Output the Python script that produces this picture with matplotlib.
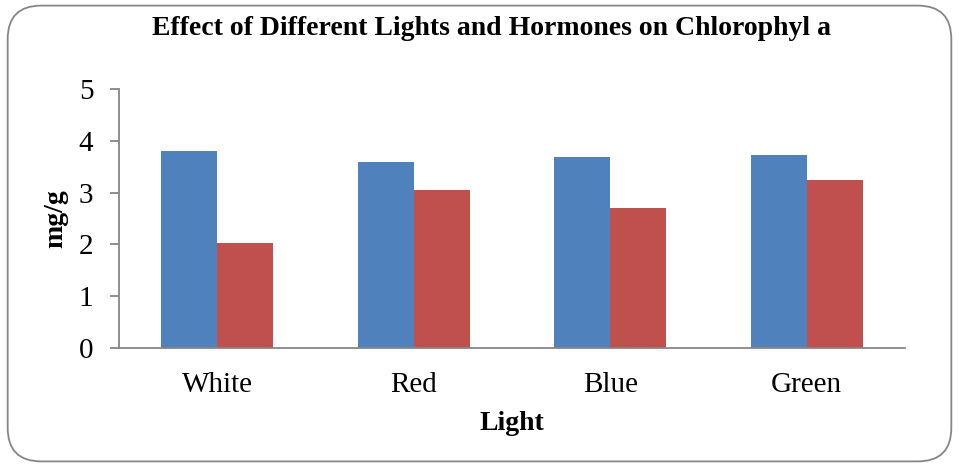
"""Bar chart — effect of different lights and hormones on chlorophyll a."""

import numpy as np
import matplotlib
matplotlib.use("Agg")
import matplotlib.pyplot as plt
from matplotlib.patches import FancyBboxPatch

lights = ["White", "Red", "Blue", "Green"]
series_a = [3.81, 3.59, 3.69, 3.73]
series_b = [2.03, 3.05, 2.70, 3.25]

y_ticks = [0, 1, 2, 3, 4, 5]


def plot_chlorophyll(save_path="out.png"):
    plt.rcParams["font.family"] = ["Liberation Serif", "DejaVu Serif"]
    fig = plt.figure(figsize=(9.59, 4.67), dpi=100)
    ax = fig.add_axes([0.1241, 0.2548, 0.8196, 0.5546])

    x = np.arange(len(lights))
    width = 0.285
    ax.bar(x - width / 2, series_a, width, color="#4F81BD", linewidth=0)
    ax.bar(x + width / 2, series_b, width, color="#C0504D", linewidth=0)

    axis_grey = "#868686"
    ax.set_xlim(-0.5, len(lights) - 0.5)
    ax.set_ylim(0, 5)
    ax.set_yticks(y_ticks)
    ax.set_xticks(x)
    ax.set_xticklabels(lights)
    for side in ["top", "right"]:
        ax.spines[side].set_visible(False)
    for side in ["left", "bottom"]:
        ax.spines[side].set_color(axis_grey)
        ax.spines[side].set_linewidth(1.3)
    ax.tick_params(axis="y", direction="out", length=6.5, width=1.3,
                   color=axis_grey, labelsize=21, pad=12)
    ax.tick_params(axis="x", length=0, labelsize=21, pad=17)

    ax.set_xlabel("Light", fontsize=20, fontweight="bold")
    ax.xaxis.set_label_coords(0.5, -0.245)
    ax.set_ylabel("mg/g", fontsize=20, fontweight="bold")
    ax.yaxis.set_label_coords(-0.065, 0.5)

    fig.text(0.513, 0.925, "Effect of Different Lights and Hormones on Chlorophyl a",
             ha="center", va="baseline", fontsize=20, fontweight="bold")

    # rounded chart border
    border = FancyBboxPatch((0.008, 0.012), 0.984, 0.976,
                            boxstyle="round,pad=0,rounding_size=0.035",
                            transform=fig.transFigure, facecolor="none",
                            edgecolor=axis_grey, linewidth=1.3,
                            mutation_aspect=959 / 467)
    fig.patches.append(border)

    fig.savefig(save_path, dpi=100)
    plt.close(fig)


if __name__ == "__main__":
    plot_chlorophyll()
